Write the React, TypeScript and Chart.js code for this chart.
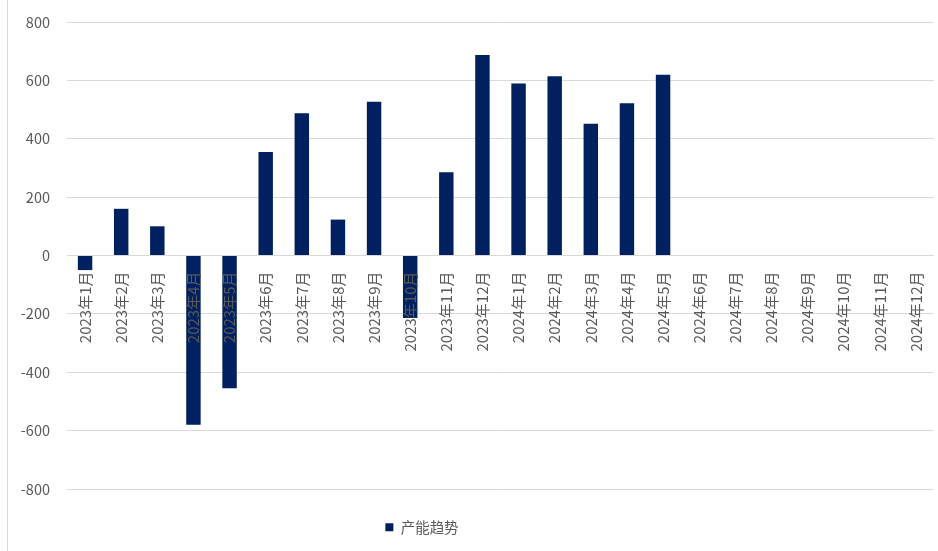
import { useEffect, useRef } from 'react';
import { Chart, registerables } from 'chart.js';

Chart.register(...registerables);

const categories = [
  '2023年1月', '2023年2月', '2023年3月', '2023年4月', '2023年5月', '2023年6月',
  '2023年7月', '2023年8月', '2023年9月', '2023年10月', '2023年11月', '2023年12月',
  '2024年1月', '2024年2月', '2024年3月', '2024年4月', '2024年5月', '2024年6月',
  '2024年7月', '2024年8月', '2024年9月', '2024年10月', '2024年11月', '2024年12月',
];

const capacityTrend: (number | null)[] = [
  -50, 160, 100, -580, -455, 355, 487, 123, 527, -214, 285, 687,
  589, 614, 451, 522, 619, null, null, null, null, null, null, null,
];

const seriesName = '产能趋势';
const yMin = -800;
const yMax = 800;
const yStep = 200;

const FONT = '"Noto Sans CJK SC", "Noto Sans", sans-serif';
const TEXT = '#595959';
const GRID = '#d9d9d9';
const BAR = '#002060';

const legendNudge = {
  id: 'legendNudge',
  afterLayout(chart: any) {
    const lg = chart.legend;
    if (!lg) return;
    lg.left -= 106;
    lg.top += 21;
    lg.bottom += 21;
  },
};

const noScalePadding = (scale: any) => {
  scale.paddingLeft = 0;
  scale.paddingRight = 0;
  scale.paddingTop = 0;
  scale.paddingBottom = 0;
};

export default function App() {
  const ref = useRef<HTMLCanvasElement | null>(null);

  useEffect(() => {
    document.body.style.margin = '0';
    if (!ref.current) return;
    const chart = new Chart(ref.current, {
      type: 'bar',
      data: {
        labels: categories,
        datasets: [
          {
            label: seriesName,
            data: capacityTrend,
            backgroundColor: BAR,
            borderWidth: 0,
            barPercentage: 0.4,
            categoryPercentage: 1,
          },
        ],
      },
      options: {
        animation: false,
        responsive: true,
        maintainAspectRatio: false,
        layout: { autoPadding: false, padding: { left: 8, right: 4, top: 22, bottom: 27.5 } },
        plugins: {
          tooltip: { enabled: false },
          legend: {
            position: 'bottom',
            labels: {
              boxWidth: 8,
              boxHeight: 8,
              padding: 10,
              color: TEXT,
              font: { family: FONT, size: 14.5 },
            },
          },
        },
        scales: {
          x: {
            position: { y: 0 } as any,
            grid: { display: false, drawTicks: false },
            border: { display: false },
            afterFit: noScalePadding,
            ticks: {
              z: 1,
              minRotation: 90,
              maxRotation: 90,
              autoSkip: false,
              padding: 16,
              color: TEXT,
              font: { family: FONT, size: 15 },
            },
          },
          y: {
            min: yMin,
            max: yMax,
            grid: { color: GRID, lineWidth: 1, drawTicks: false },
            border: { display: false },
            afterFit: (scale: any) => {
              noScalePadding(scale);
              scale.width = 51;
            },
            ticks: {
              stepSize: yStep,
              padding: 17,
              color: TEXT,
              font: { family: FONT, size: 14.5 },
            },
          },
        },
      },
      plugins: [legendNudge],
    });
    return () => chart.destroy();
  }, []);

  return (
    <div style={{ position: 'relative', width: 938, height: 551, background: '#fff' }}>
      <div
        style={{
          position: 'absolute',
          left: 7,
          top: 0,
          width: 930,
          height: 551,
          borderLeft: `1px solid ${GRID}`,
        }}
      >
        <canvas ref={ref} />
      </div>
    </div>
  );
}
